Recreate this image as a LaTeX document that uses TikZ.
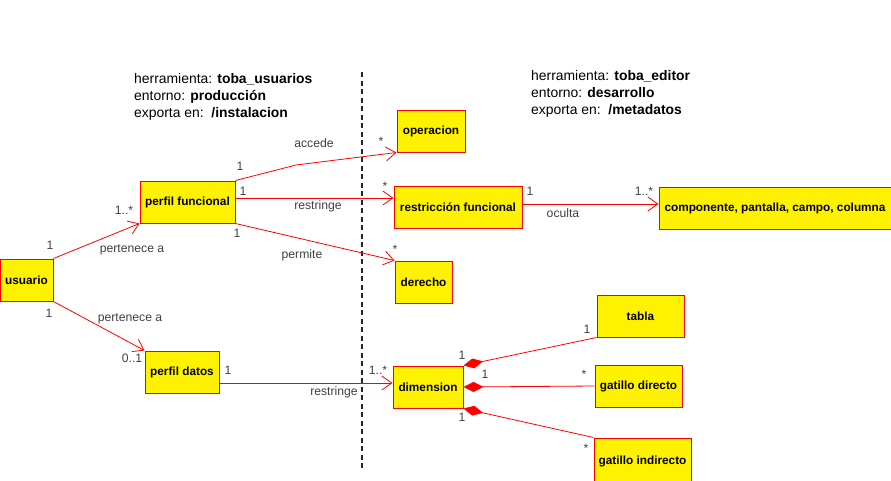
\documentclass[tikz,border=0pt]{standalone}
\usepackage{fontspec}
\setmainfont{Liberation Sans}
\usetikzlibrary{arrows.meta, positioning}
\definecolor{labelgray}{RGB}{64,64,64}
\tikzset{
  klass/.style={rectangle, draw=red, fill=yellow, line width=1pt, minimum height=42pt, inner sep=0pt, font=\fontsize{11.8}{13}\selectfont\bfseries},
  assoc/.style={draw=red, line width=0.8pt, -{Straight Barb[length=10pt, width=14pt]}},
  compo/.style={draw=red, line width=0.8pt, {Diamond[length=20pt, width=10pt]}-},
  mult/.style={text=labelgray, inner sep=0pt, font=\fontsize{12.2}{14}\selectfont},
  header/.style={align=left, anchor=north west, inner sep=0pt, font=\fontsize{13.9}{17}\selectfont}
}

\begin{document}
\begin{tikzpicture}[x=1pt, y=-1pt]
  \useasboundingbox (0,0) rectangle (891,480);
  \clip (0,0) rectangle (891,480);

  % Headers
  \node[header] (htools) at (134,73) {herramienta: \textbf{toba\_usuarios}\\entorno: \textbf{producción}\\exporta en:\ \ \textbf{/instalacion}};
  \node[header] (hedit) at (531,70) {herramienta: \textbf{toba\_editor}\\entorno: \textbf{desarrollo}\\exporta en:\ \ \textbf{/metadatos}};
  \coordinate (sepTop) at (362,72);
  \coordinate (sepBot) at (362,471);
  \draw[line width=1.6pt, black!85, dash pattern=on 5pt off 3.5pt] (sepTop) -- (sepBot);

  % Nodes
  \node[klass, minimum width=53pt] (usuario) at (26.5,280) {usuario};
  \node[klass, minimum width=95pt] (pfunc) at (187.5,202) {perfil funcional};
  \node[klass, minimum width=74pt] (pdatos) at (182,372) {perfil datos};
  \node[klass, minimum width=68pt] (operacion) at (431,131) {operacion};
  \node[klass, minimum width=128pt] (rfunc) at (458,207) {restricción funcional};
  \node[klass, minimum width=57pt] (derecho) at (423.5,282) {derecho};
  \node[klass, minimum width=232pt] (comp) at (775,208) {componente, pantalla, campo, columna};
  \node[klass, minimum width=70pt] (dimension) at (428,387) {dimension};
  \node[klass, minimum width=87pt] (tabla) at (640.5,316) {tabla};
  \node[klass, minimum width=87pt] (gdir) at (638.5,386) {gatillo directo};
  \node[klass, minimum width=97pt, minimum height=46pt] (gind) at (642.5,461) {gatillo indirecto};
  \coordinate (bend) at (296,165);

  % Arrows
  \draw[assoc] (usuario.north east) -- (pfunc.south west);
  \draw[assoc] (usuario.south east) -- (pdatos.north west);
  \draw[assoc] (pfunc.north east) -- (bend) -- (operacion.south west);
  \draw[assoc] ([yshift=4pt]pfunc.east) -- ([yshift=4pt]pfunc.east -| rfunc.west);
  \draw[assoc] (pfunc.south east) -- (derecho.north west);
  \draw[assoc] ([yshift=3pt]rfunc.east) -- ([yshift=3pt]rfunc.east -| comp.west);
  \draw[assoc] ([yshift=-11pt]pdatos.east) -- ([yshift=-11pt]pdatos.east -| dimension.west);
  \draw[compo] (dimension.north east) -- (tabla.south west);
  \draw[compo] (dimension.east) -- (gdir.west);
  \draw[compo] (dimension.south east) -- (gind.north west);

  % Labels
  \node[mult] (lpert1) at (132,250) {pertenece a};
  \node[mult] (lpert2) at (130,319) {pertenece a};
  \node[mult] (lacc) at (314,143) {accede};
  \node[mult] (lrest1) at (318,206) {restringe};
  \node[mult] (lperm) at (302,255) {permite};
  \node[mult] (locul) at (563,213) {oculta};
  \node[mult] (lrest2) at (334,392) {restringe};

  % Multiplicities
  \node[mult] (m1) at (50,245) {1};
  \node[mult] (m2) at (124,210) {1..*};
  \node[mult] (m3) at (49,313) {1};
  \node[mult] (m4) at (132,358) {0..1};
  \node[mult] (m5) at (240,166) {1};
  \node[mult] (m6) at (381,141) {*};
  \node[mult] (m7) at (243,191) {1};
  \node[mult] (m8) at (385,186) {*};
  \node[mult] (m9) at (237,233) {1};
  \node[mult] (m10) at (395,249) {*};
  \node[mult] (m11) at (530,191) {1};
  \node[mult] (m12) at (644,191) {1..*};
  \node[mult] (m13) at (228,370) {1};
  \node[mult] (m14) at (378,370) {1..*};
  \node[mult] (m15) at (462,355) {1};
  \node[mult] (m16) at (587,329) {1};
  \node[mult] (m17) at (485,374) {1};
  \node[mult] (m18) at (584,374) {*};
  \node[mult] (m19) at (462,417) {1};
  \node[mult] (m20) at (586,448) {*};
\end{tikzpicture}
\end{document}
